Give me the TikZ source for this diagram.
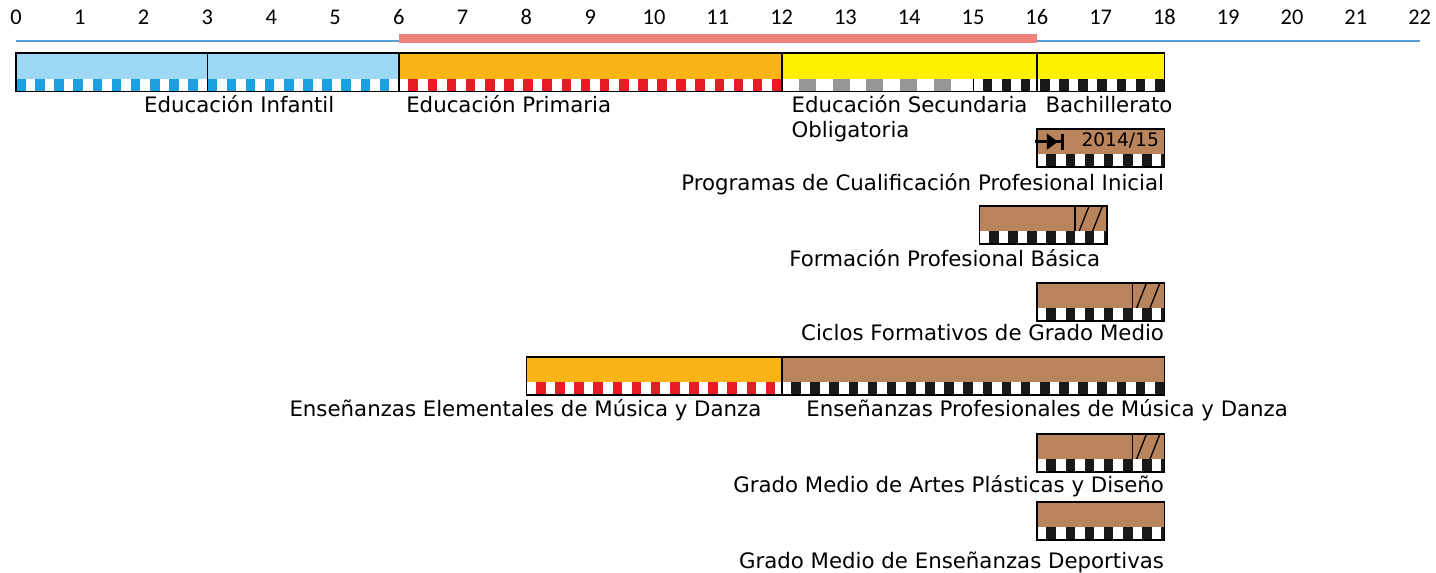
\documentclass[tikz,border=0pt]{standalone}
\usepackage{fontspec}
\setmainfont{DejaVu Sans}
\newfontfamily\agefont{Carlito}
\usetikzlibrary{arrows.meta}

\definecolor{infblue}{RGB}{157,216,245}
\definecolor{sqblue}{RGB}{27,161,226}
\definecolor{priorange}{RGB}{251,180,21}
\definecolor{sqred}{RGB}{232,28,36}
\definecolor{esoyellow}{RGB}{255,242,0}
\definecolor{sqgrey}{RGB}{150,150,150}
\definecolor{fpbrown}{RGB}{185,131,92}
\definecolor{sqblack}{RGB}{25,25,25}
\definecolor{axisblue}{RGB}{91,155,213}
\definecolor{stagered}{RGB}{240,130,125}

% squares of a strip: left, right, top, bottom, colour, first square, period
\newcommand{\squares}[7]{%
  \begin{scope}
    \clip (#1,#3) rectangle (#2,#4);
    \foreach \k in {0,...,24}
      \fill[#5] ({#6+#7*\k},#3) rectangle ({#6+#7*\k+#7/2},#4);
  \end{scope}}

% brown course box with black/white strip: left, right, top
\newcommand{\course}[3]{%
  \fill[fpbrown] (#1,#3) rectangle (#2,#3+25);
  \squares{#1}{#2}{#3+25}{#3+38}{sqblack}{#1+0.15}{0.3}
  \draw[box] (#1,#3) rectangle (#2,#3+38);}

% hatched last part of a course: start, top
\newcommand{\hatched}[2]{%
  \draw[box] (#1,#2) -- (#1,#2+25);
  \draw[line width=0.6pt] (#1+0.065,#2+25) -- (#1+0.22,#2);
  \draw[line width=0.6pt] (#1+0.275,#2+25) -- (#1+0.43,#2);}

\begin{document}
\begin{tikzpicture}[
    x=1cm, y=-0.015674cm,
    box/.style={draw=black, line width=0.8pt},
    lbl/.style={font=\fontsize{9.5}{11.2}\selectfont, inner sep=0pt},
    age/.style={font=\agefont\fontsize{10}{12}\selectfont, inner sep=0pt, anchor=base}
]
\useasboundingbox (-0.251,0) rectangle (22.257,573);

% age scale
\foreach \a in {0,...,22}
  \node[age] (age\a) at (\a,25) {\a};
\draw[axisblue, line width=0.9pt] (0,40.7) -- (22,40.7);
\draw[stagered, line width=3.8pt] (6,38.5) -- (16,38.5);

% main bar
\fill[infblue] (0,53) rectangle (6,79);
\fill[priorange] (6,53) rectangle (12,79);
\fill[esoyellow] (12,53) rectangle (18,79);
\squares{0}{6}{79}{91.5}{sqblue}{0}{0.3}
\squares{6}{12}{79}{91.5}{sqred}{6.15}{0.3}
\squares{12}{14.9}{79}{91.5}{sqgrey}{12.27}{0.53}
\squares{15}{18}{79}{91.5}{sqblack}{15.15}{0.3}
\draw[box] (0,53) rectangle (18,91.5);
\foreach \d in {3,6,12,16}
  \draw[box] (\d,53) -- (\d,91.5);
\draw[thin] (15,79) -- (15,91.5);

\node[lbl, anchor=base west] (infantil) at (2.0,112.7) {Educación Infantil};
\node[lbl, anchor=base west] (primaria) at (6.11,112.7) {Educación Primaria};
\node[lbl, anchor=base west, align=left] (eso) at (12.15,137.7) {Educación Secundaria\\Obligatoria};
\node[lbl, anchor=base west] (bach) at (16.13,112.7) {Bachillerato};

% PCPI
\course{16}{18}{129}
\coordinate (pcpiA) at (15.97,141.7);
\coordinate (pcpiB) at (16.43,141.7);
\draw[line width=1.6pt, -{Triangle[length=5pt,width=7pt,sep=1.2pt]Bar[width=7pt,line width=1.6pt]}] (pcpiA) -- (pcpiB);
\node[inner sep=0pt, anchor=base east, font=\fontsize{8.3}{10}\selectfont] (curso) at (17.92,147) {2014/15};
\node[lbl, anchor=base east] (pcpi) at (18,190.5) {Programas de Cualificación Profesional Inicial};

% FPB
\course{15.1}{17.1}{206}
\hatched{16.6}{206}
\node[lbl, anchor=base east] (fpb) at (17.0,266.5) {Formación Profesional Básica};

% CFGM
\course{16}{18}{283}
\hatched{17.5}{283}
\node[lbl, anchor=base east] (cfgm) at (18,340.5) {Ciclos Formativos de Grado Medio};

% music and dance
\fill[priorange] (8,357) rectangle (12,382);
\squares{8}{12}{382}{395}{sqred}{8.15}{0.3}
\course{12}{18}{357}
\draw[box] (8,357) rectangle (18,395);
\node[lbl, anchor=base east] (elem) at (11.69,416.5) {Enseñanzas Elementales de Música y Danza};
\node[lbl, anchor=base west] (prof) at (12.38,416.5) {Enseñanzas Profesionales de Música y Danza};

% arts
\course{16}{18}{434}
\hatched{17.5}{434}
\node[lbl, anchor=base east] (artes) at (18,492.5) {Grado Medio de Artes Plásticas y Diseño};

% sports
\course{16}{18}{502}
\node[lbl, anchor=base east] (dep) at (18,568.5) {Grado Medio de Enseñanzas Deportivas};
\end{tikzpicture}
\end{document}
